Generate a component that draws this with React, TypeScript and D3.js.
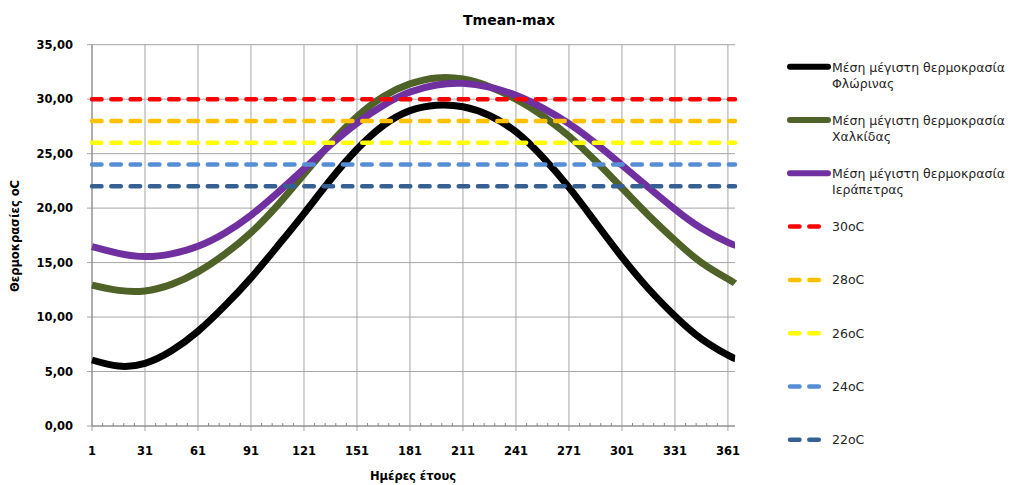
import React from "react";
import * as d3 from "d3";

// ---- data ----
const days = [1, 16, 31, 46, 61, 76, 91, 106, 121, 136, 151, 166, 181, 196, 211, 226, 241, 256, 271, 286, 301, 316, 331, 346, 361, 365];
const florina = [6.06, 5.5, 5.75, 6.9, 8.7, 11.0, 13.6, 16.5, 19.5, 22.6, 25.4, 27.6, 28.95, 29.45, 29.3, 28.5, 27.0, 24.7, 21.9, 18.7, 15.5, 12.6, 10.1, 8.0, 6.5, 6.2];
const chalkida = [12.94, 12.45, 12.4, 13.0, 14.15, 15.75, 17.75, 20.25, 23.1, 25.95, 28.4, 30.25, 31.4, 31.95, 31.85, 31.15, 30.0, 28.5, 26.6, 24.35, 21.85, 19.35, 17.05, 15.0, 13.5, 13.1];
const ierapetra = [16.46, 15.85, 15.55, 15.8, 16.5, 17.7, 19.35, 21.4, 23.6, 25.8, 27.8, 29.45, 30.65, 31.3, 31.45, 31.1, 30.35, 29.2, 27.75, 25.95, 23.95, 21.9, 19.9, 18.15, 16.85, 16.6];
const seriesNames = [
  ["Μέση μέγιστη θερμοκρασία", "Φλώρινας"],
  ["Μέση μέγιστη θερμοκρασία", "Χαλκίδας"],
  ["Μέση μέγιστη θερμοκρασία", "Ιεράπετρας"],
];
const thresholds = [30, 28, 26, 24, 22];
const thresholdLabels = ["30oC", "28oC", "26oC", "24oC", "22oC"];
const xTickValues = [1, 31, 61, 91, 121, 151, 181, 211, 241, 271, 301, 331, 361];
const yTickValues = [0, 5, 10, 15, 20, 25, 30, 35];

const seriesColors = ["#000000", "#4F6228", "#7030A0"];
const thresholdColors = ["#FF0000", "#FFC000", "#FFFF00", "#558ED5", "#376092"];

export default function App() {
  const W = 1011, H = 485;
  const x = d3.scaleLinear().domain([1, 365]).range([92, 735]);
  const y = d3.scaleLinear().domain([0, 35]).range([426, 44.7]);
  const fmt = d3.formatLocale({ decimal: ",", thousands: ".", grouping: [3], currency: ["", "€"] }).format(".2f");
  const line = d3
    .line<number>()
    .x((_, i) => x(days[i]))
    .y((v) => y(v))
    .curve(d3.curveNatural);
  const series = [florina, chalkida, ierapetra];
  const minor = d3.range(1, 366, 6).filter((d) => (d - 1) % 30 !== 0);
  const font = "'DejaVu Sans', Verdana, sans-serif";
  const dash = "9.5,9.8";
  const legX1 = 790, legX2 = 828, legTextX = 832;
  const legY = (i: number) => 66.7 + i * 53.3;

  return (
    <svg
      width={W}
      height={H}
      style={{ position: "absolute", left: 0, top: 0, background: "#fff" }}
      fontFamily={font}
    >
      <rect x={0} y={0} width={W} height={H} fill="#fff" />
      {yTickValues.map((v) => (
        <line key={"hg" + v} x1={87} x2={735} y1={y(v)} y2={y(v)} stroke="#A6A6A6" strokeWidth={1} />
      ))}
      {xTickValues.map((d) => (
        <line key={"vg" + d} x1={x(d)} x2={x(d)} y1={y(35)} y2={y(0) + 5} stroke="#A6A6A6" strokeWidth={1} />
      ))}
      {minor.map((d) => (
        <line key={"mt" + d} x1={x(d)} x2={x(d)} y1={y(0) - 3} y2={y(0)} stroke="#868686" strokeWidth={1} />
      ))}
      <line x1={x(1)} x2={x(1)} y1={y(35)} y2={y(0)} stroke="#868686" strokeWidth={1} />
      <line x1={x(1)} x2={735} y1={y(0)} y2={y(0)} stroke="#868686" strokeWidth={1} />

      {yTickValues.map((v) => (
        <text key={"yl" + v} x={73} y={y(v) + 4} textAnchor="end" fontSize={11.5} fontWeight="bold" fill="#000">
          {fmt(v)}
        </text>
      ))}
      {xTickValues.map((d) => (
        <text key={"xl" + d} x={x(d)} y={455} textAnchor="middle" fontSize={11.5} fontWeight="bold" fill="#000">
          {d}
        </text>
      ))}

      {series.map((s, i) => (
        <path key={"s" + i} d={line(s) || ""} fill="none" stroke={seriesColors[i]} strokeWidth={7} strokeLinecap="butt" strokeLinejoin="round" />
      ))}
      {thresholds.map((t, i) => (
        <line
          key={"t" + t}
          x1={x(1)}
          x2={x(365)}
          y1={y(t)}
          y2={y(t)}
          stroke={thresholdColors[i]}
          strokeWidth={4.5}
          strokeDasharray={dash}
          strokeLinecap="round"
        />
      ))}

      <text x={509} y={25} textAnchor="middle" fontSize={14} fontWeight="bold" fill="#000">
        Tmean-max
      </text>
      <text x={413} y={480} textAnchor="middle" fontSize={11.5} fontWeight="bold" fill="#000">
        Ημέρες έτους
      </text>
      <text
        transform={`translate(19,236) rotate(-90)`}
        textAnchor="middle"
        fontSize={11.5}
        fontWeight="bold"
        fill="#000"
      >
        Θερμοκρασίες oC
      </text>

      {seriesNames.map((nm, i) => (
        <g key={"lg" + i}>
          <line x1={legX1} x2={legX2} y1={legY(i)} y2={legY(i)} stroke={seriesColors[i]} strokeWidth={6} strokeLinecap="round" />
          <text x={legTextX} y={legY(i) + 5} fontSize={12.5} fill="#262626">
            {nm[0]}
          </text>
          <text x={legTextX} y={legY(i) + 21} fontSize={12.5} fill="#262626">
            {nm[1]}
          </text>
        </g>
      ))}
      {thresholdLabels.map((lb, i) => (
        <g key={"lt" + i}>
          <line
            x1={legX1}
            x2={legX2}
            y1={legY(i + 3)}
            y2={legY(i + 3)}
            stroke={thresholdColors[i]}
            strokeWidth={4.5}
            strokeDasharray={dash}
            strokeLinecap="round"
          />
          <text x={legTextX} y={legY(i + 3) + 4.5} fontSize={12.5} fill="#262626">
            {lb}
          </text>
        </g>
      ))}
    </svg>
  );
}
